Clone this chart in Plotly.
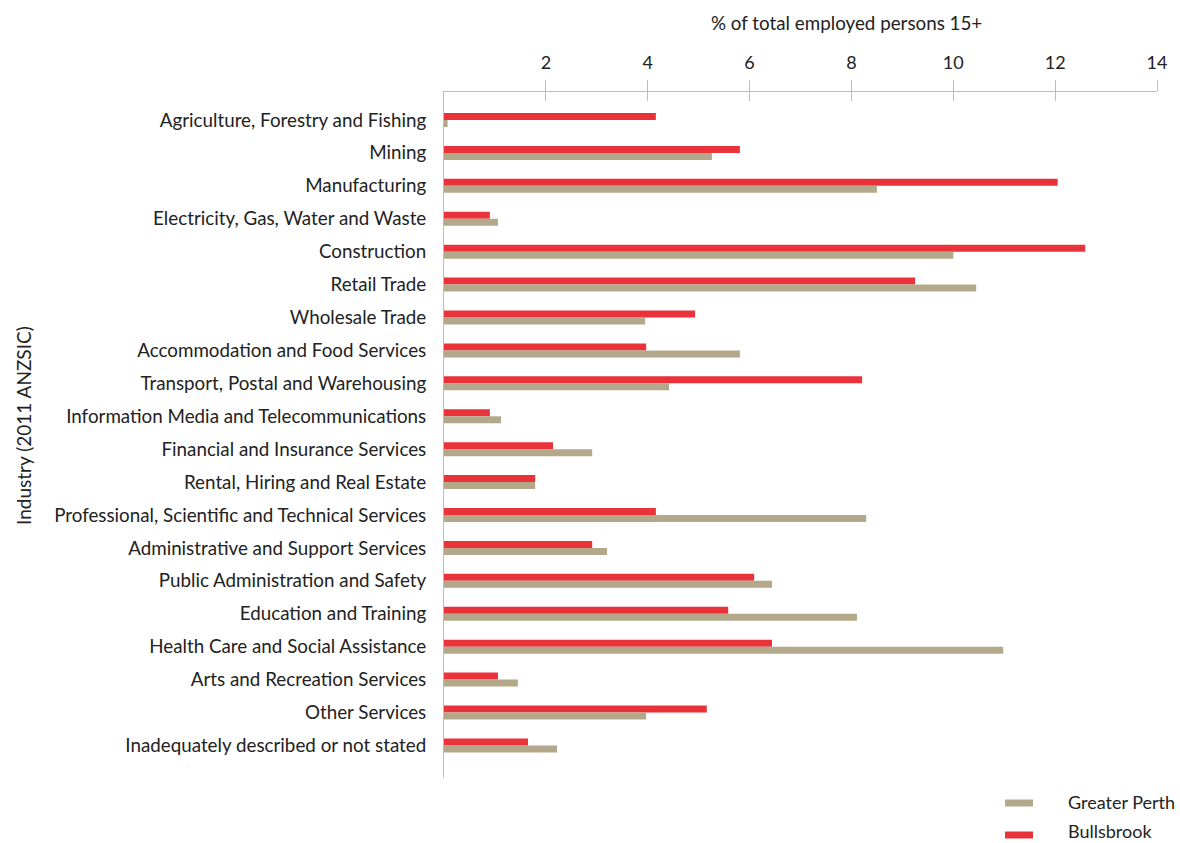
import plotly.graph_objects as go

industries = [
    "Agriculture, Forestry and Fishing",
    "Mining",
    "Manufacturing",
    "Electricity, Gas, Water and Waste",
    "Construction",
    "Retail Trade",
    "Wholesale Trade",
    "Accommodation and Food Services",
    "Transport, Postal and Warehousing",
    "Information Media and Telecommunications",
    "Financial and Insurance Services",
    "Rental, Hiring and Real Estate",
    "Professional, Scientific and Technical Services",
    "Administrative and Support Services",
    "Public Administration and Safety",
    "Education and Training",
    "Health Care and Social Assistance",
    "Arts and Recreation Services",
    "Other Services",
    "Inadequately described or not stated",
]
bullsbrook = [4.16, 5.81, 12.05, 0.90, 12.59, 9.25, 4.93, 3.97, 8.21, 0.90,
              2.14, 1.79, 4.16, 2.91, 6.09, 5.58, 6.44, 1.06, 5.16, 1.65]
greater_perth = [0.07, 5.26, 8.50, 1.06, 10.00, 10.45, 3.95, 5.81, 4.42, 1.12,
                 2.91, 1.79, 8.29, 3.20, 6.44, 8.11, 10.98, 1.45, 3.97, 2.22]
x_ticks = [2, 4, 6, 8, 10, 12, 14]

RED = "#EA323A"
GREY = "#B3A88A"
AXIS = "#BDBDBD"
TXT = "#222222"
FONT = "Lato"

W, H = 1180, 843
L, R, T, B = 444, 1157, 92, 778

fig = go.Figure()
fig.add_trace(go.Bar(y=industries, x=bullsbrook, orientation="h", name="Bullsbrook",
                     marker=dict(color=RED, line=dict(width=0)), showlegend=False))
fig.add_trace(go.Bar(y=industries, x=greater_perth, orientation="h", name="Greater Perth",
                     marker=dict(color=GREY, line=dict(width=0)), showlegend=False))

fig.update_layout(
    width=W, height=H,
    margin=dict(l=L, r=W - R, t=T, b=H - B, pad=0),
    paper_bgcolor="white", plot_bgcolor="white",
    barmode="group", bargap=0.575, bargroupgap=0,
    font=dict(family=FONT, size=18, color=TXT),
    xaxis=dict(range=[0, 14], side="top", tickvals=x_ticks,
               showgrid=False, zeroline=False, showline=True, linecolor=AXIS, linewidth=1,
               ticks="outside", ticklen=11, tickcolor=AXIS, tickwidth=1,
               tickfont=dict(family=FONT, size=18, color=TXT), ticklabelstandoff=4),
    xaxis2=dict(range=[0, 14], overlaying="x", side="top", tickvals=x_ticks,
                showgrid=False, zeroline=False, showline=False, showticklabels=False,
                ticks="inside", ticklen=9, tickcolor=AXIS, tickwidth=1),
    yaxis=dict(type="category", categoryorder="array", categoryarray=industries,
               range=[19.99, -0.85], showgrid=False, zeroline=False,
               showline=True, linecolor=AXIS, linewidth=1, ticks="",
               tickfont=dict(family=FONT, size=18.8, color=TXT), ticklabelstandoff=13),
)
# invisible trace to activate xaxis2 tick marks
fig.add_trace(go.Scatter(x=[None], y=[None], xaxis="x2", yaxis="y", showlegend=False, hoverinfo="skip"))

def px_x(p):
    return (p - L) / (R - L)

def px_y(p):
    return (B - p) / (B - T)

fig.add_annotation(text="% of total employed persons 15+", x=px_x(846), y=px_y(22),
                   xref="paper", yref="paper", showarrow=False,
                   font=dict(family=FONT, size=18.8, color=TXT), xanchor="center", yanchor="middle")
fig.add_annotation(text="Industry (2011 ANZSIC)", x=px_x(23), y=px_y(426),
                   xref="paper", yref="paper", showarrow=False, textangle=-90,
                   font=dict(family=FONT, size=19, color=TXT), xanchor="center", yanchor="middle")

legend_items = [("Greater Perth", GREY, 803, 802), ("Bullsbrook", RED, 835, 831)]
for name, col, yy, ty in legend_items:
    fig.add_shape(type="rect", xref="paper", yref="paper",
                  x0=px_x(1005), x1=px_x(1033), y0=px_y(yy + 3.5), y1=px_y(yy - 3.5),
                  fillcolor=col, line=dict(width=0))
    fig.add_annotation(text=name, x=px_x(1067), y=px_y(ty), xref="paper", yref="paper",
                       showarrow=False, xanchor="left", yanchor="middle", borderpad=0,
                       font=dict(family=FONT, size=18, color=TXT))

fig.write_html("out.html")
